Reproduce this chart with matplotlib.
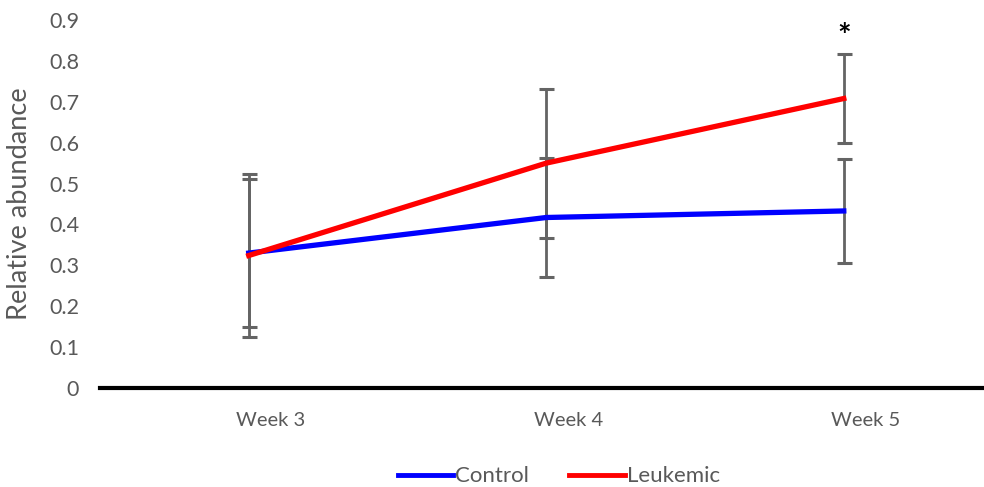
import numpy as np
import matplotlib
matplotlib.use("Agg")
import matplotlib.pyplot as plt
import matplotlib.transforms as mtrans
from matplotlib.lines import Line2D

plt.rcParams['font.family'] = ['Lato', 'DejaVu Sans']

weeks = ['Week 3', 'Week 4', 'Week 5']
control = [0.330, 0.417, 0.433]
control_err = [0.181, 0.145, 0.127]
leukemic = [0.324, 0.550, 0.708]
leukemic_err = [0.199, 0.182, 0.110]

grey = '#595959'
x = np.arange(len(weeks))

fig = plt.figure(figsize=(9.84, 4.87), dpi=100)
ax = fig.add_axes([0.1016, 0.2033, 0.9071, 0.7556])

ax.errorbar(x, control, yerr=control_err, color='blue', lw=3.8,
            ecolor='#646464', elinewidth=2, capsize=5.4, capthick=2.2, zorder=3)
ax.errorbar(x, leukemic, yerr=leukemic_err, color='red', lw=3.8,
            ecolor='#646464', elinewidth=2, capsize=5.4, capthick=2.2, zorder=3)

# significance marker
ax.text(x[2], leukemic[2] + leukemic_err[2] + 0.003, '*', ha='center', va='bottom',
        fontsize=23, fontweight='bold', color='black')

ax.set_xlim(-0.5, 2.5)
ax.set_ylim(0, 0.9)
ax.set_yticks(np.arange(0, 0.91, 0.1))
ax.set_yticklabels(['0'] + ['%.1f' % v for v in np.arange(0.1, 0.91, 0.1)])
ax.set_xticks(x)
ax.set_xticklabels(weeks)
ax.tick_params(axis='both', length=0, colors=grey)
ax.tick_params(axis='y', pad=15, labelsize=15.5)
ax.tick_params(axis='x', pad=17, labelsize=14.5)
# category labels sit a bit right of the points in the original
off = mtrans.ScaledTranslation(22 / 100, 0, fig.dpi_scale_trans)
for lab in ax.get_xticklabels():
    lab.set_transform(lab.get_transform() + off)

for s in ['top', 'right', 'left']:
    ax.spines[s].set_visible(False)
ax.spines['bottom'].set_linewidth(3)
ax.spines['bottom'].set_color('black')

ax.set_ylabel('Relative abundance', fontsize=19.5, color=grey)
ax.yaxis.set_label_coords(-0.076, 0.5)

handles = [Line2D([], [], color='blue', lw=3.5), Line2D([], [], color='red', lw=3.5)]
fig.legend(handles, ['Control', 'Leukemic'], loc='center', bbox_to_anchor=(0.568, 0.022),
           ncol=2, frameon=False, fontsize=16, handlelength=2.5, handletextpad=0.1,
           columnspacing=1.8, labelcolor=grey)

fig.savefig('out.png', dpi=100)
